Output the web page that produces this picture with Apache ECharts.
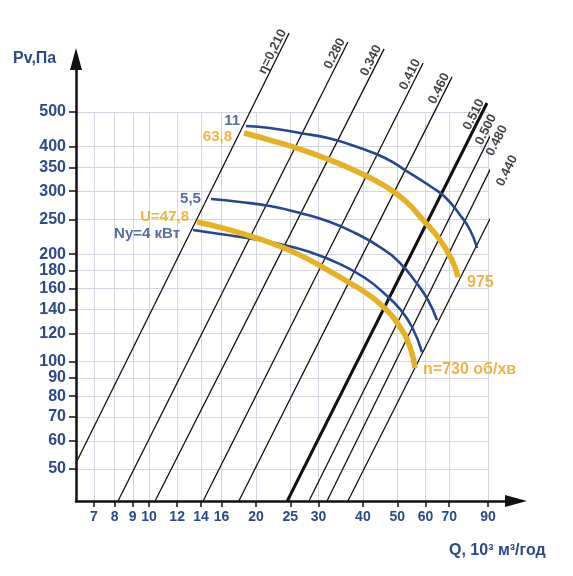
<!DOCTYPE html>
<html><head><meta charset="utf-8">
<script src="https://cdn.jsdelivr.net/npm/echarts@6/dist/echarts.min.js"></script>
<style>html,body{margin:0;padding:0;background:#fff}#c{width:573px;height:576px}</style>
</head><body><div id="c"></div>
<script>
// ---- data ----
const qTicks = [7, 8, 9, 10, 12, 14, 16, 20, 25, 30, 40, 50, 60, 70, 90];
const pTicks = [50, 60, 70, 80, 90, 100, 120, 140, 160, 180, 200, 250, 300, 350, 400, 500];

const etaNames = ['η=0,210', '0.280', '0.340', '0.410', '0.460', '0.510', '0.500', '0.480', '0.440'];
const etaLow  = [[6.23, 52.0], [8.18, 40.7], [10.4, 40.7], [14.2, 40.7], [17.9, 40.7], [24.5, 40.7], [28.2, 40.7], [31.7, 40.7], [36.3, 40.7]];
const etaHigh = [[24.8, 832], [36.3, 785], [45.9, 751], [59.1, 686], [71.3, 627], [89.4, 530], [96.7, 481], [103.8, 448], [110.8, 369]];

const power11  = [[18.75, 456.9], [21.9, 451.0], [26.61, 436.6], [32.32, 421.4], [39.27, 396.3], [46.17, 371.7], [52.55, 343.9],
                  [61.81, 310.2], [68.12, 289.1], [75.08, 257.4], [80.11, 233.6], [83.83, 208.0]];
const power55  = [[14.94, 285.3], [18.04, 279.9], [21.9, 272.7], [26.61, 260.7], [32.32, 246.0], [38.02, 229.1], [44.7, 209.3],
                  [50.87, 188.8], [56.08, 168.1], [61.01, 148.7], [64.68, 130.7]];
const power4   = [[13.3, 233.6], [15.84, 227.6], [19.24, 221.1], [23.37, 213.4], [28.39, 202.6], [34.49, 187.5], [40.56, 171.4],
                  [46.17, 154.5], [50.87, 140.3], [55.0, 125.0], [58.68, 106.3]];
const speed975 = [[18.51, 436.6], [21.9, 417.3], [26.61, 393.7], [32.32, 366.9], [39.27, 337.4], [46.17, 310.2], [52.89, 280.8],
                  [59.06, 249.2], [65.95, 219.0], [71.28, 192.4], [74.11, 172.5]];
const speed730 = [[13.65, 246.0], [16.36, 235.8], [19.24, 224.7], [22.63, 212.7], [26.61, 198.7], [31.29, 182.2], [36.81, 165.9],
                  [41.09, 155.0], [45.58, 142.6], [50.87, 125.0], [54.28, 109.8], [56.08, 95.9]];

const startLabels = ['11', '5,5', 'Ny=4 кВт', '63,8', 'U=47,8'];
const endLabels = ['975', 'n=730 об/хв'];

// ---- styles ----
const FONT = '"Liberation Sans", Arial, sans-serif';
const BLUE_TXT = '#2d4987';
const ORANGE = '#e8a21c';
const CURVE_BLUE = '#27468f';
const CURVE_YEL = '#e6b124';
const GRIDC = '#d4d4e2';

const chart = echarts.init(document.getElementById('c'), null, {renderer: 'canvas'});

const series = [];
etaNames.forEach((n, i) => {
  series.push({
    type: 'line', xAxisIndex: 0, yAxisIndex: 0, data: [etaLow[i], etaHigh[i]],
    symbol: 'none', clip: false, silent: true, animation: false,
    lineStyle: {color: '#111', width: n === '0.510' ? 3 : 1.3}, z: 3
  });
});
series.push({
  type: 'scatter', xAxisIndex: 0, yAxisIndex: 0, clip: false, silent: true, animation: false,
  symbolSize: 1, itemStyle: {color: 'rgba(0,0,0,0)'},
  data: etaHigh.map((p, i) => ({value: p, name: etaNames[i]})),
  label: {show: true, formatter: p => p.name, position: 'inside', align: 'right', verticalAlign: 'bottom',
          rotate: 63.4, color: '#111', fontSize: 13, fontWeight: 'bold', fontFamily: FONT},
  z: 6
});

const curves = [
  {d: power11, c: CURVE_BLUE, w: 2.6},
  {d: power55, c: CURVE_BLUE, w: 2.6},
  {d: power4, c: CURVE_BLUE, w: 2.6},
  {d: speed975, c: CURVE_YEL, w: 5.5},
  {d: speed730, c: CURVE_YEL, w: 5.5}
];
curves.forEach(cv => {
  series.push({
    type: 'line', xAxisIndex: 0, yAxisIndex: 0, data: cv.d, smooth: 0.5,
    symbol: 'none', clip: false, silent: true, animation: false,
    lineStyle: {color: cv.c, width: cv.w, cap: 'butt'}, z: 4
  });
});

const startOffsets = [[-6, -5], [-10, 0], [-13, 4], [-12, 4], [-8, -5]];
const startColors = [BLUE_TXT, BLUE_TXT, BLUE_TXT, ORANGE, ORANGE];
const labelData = startLabels.map((t, i) => ({
  value: curves[i].d[0], name: t,
  label: {align: 'right', offset: startOffsets[i], color: startColors[i]}
}));
labelData.push({value: speed975[speed975.length - 1], name: endLabels[0],
  label: {align: 'left', offset: [9, 6], color: ORANGE, fontSize: 16}});
labelData.push({value: speed730[speed730.length - 1], name: endLabels[1],
  label: {align: 'left', offset: [8, 2], color: ORANGE, fontSize: 16}});
series.push({
  type: 'scatter', xAxisIndex: 0, yAxisIndex: 0, clip: false, silent: true, animation: false,
  symbolSize: 1, itemStyle: {color: 'rgba(0,0,0,0)'},
  data: labelData,
  label: {show: true, formatter: p => p.name, position: 'inside', verticalAlign: 'middle',
          fontSize: 15, fontWeight: 'bold', fontFamily: FONT},
  z: 7
});

const option = {
  backgroundColor: '#fff',
  animation: false,
  title: [
    {text: 'Pv,Па', left: 8, top: 46, textStyle: {color: BLUE_TXT, fontSize: 16, fontWeight: 'bold', fontFamily: FONT}},
    {text: 'Q, 10³ м³/год', left: 444, top: 538, textStyle: {color: BLUE_TXT, fontSize: 16, fontWeight: 'bold', fontFamily: FONT}}
  ],
  grid: [
    {left: 76, top: 112, width: 412, height: 389, containLabel: false, outerBoundsMode: 'none'},
    {left: 76, top: 59, width: 440, height: 442, containLabel: false, outerBoundsMode: 'none'}
  ],
  xAxis: [
    {type: 'log', gridIndex: 0, min: 6.23, max: 90, logBase: 10,
     axisLine: {show: false},
     axisTick: {show: true, customValues: qTicks, length: 6, lineStyle: {color: '#111', width: 1.5}},
     axisLabel: {customValues: qTicks, color: BLUE_TXT, fontSize: 14, fontWeight: 'bold', fontFamily: FONT, margin: 9,
                 formatter: v => String(Math.round(v))},
     splitLine: {show: true, lineStyle: {color: GRIDC, width: 1}},
     minorTick: {show: false}, minorSplitLine: {show: false}},
    {type: 'value', gridIndex: 1, min: 0, max: 1,
     axisLine: {show: true, onZero: false, symbol: ['none', 'triangle'], symbolSize: [12, 22], lineStyle: {color: '#111', width: 2.5}},
     axisTick: {show: false}, axisLabel: {show: false}, splitLine: {show: false}}
  ],
  yAxis: [
    {type: 'log', gridIndex: 0, min: 40.7, max: 500, logBase: 10,
     axisLine: {show: false},
     axisTick: {show: true, customValues: pTicks, length: 7, lineStyle: {color: '#111', width: 1.5}},
     axisLabel: {customValues: pTicks, color: BLUE_TXT, fontSize: 16, fontWeight: 'bold', fontFamily: FONT, margin: 10,
                 formatter: v => String(Math.round(v))},
     splitLine: {show: true, lineStyle: {color: GRIDC, width: 1}},
     minorTick: {show: false}, minorSplitLine: {show: false}},
    {type: 'value', gridIndex: 1, min: 0, max: 1,
     axisLine: {show: true, onZero: false, symbol: ['none', 'triangle'], symbolSize: [12, 22], lineStyle: {color: '#111', width: 2.5}},
     axisTick: {show: false}, axisLabel: {show: false}, splitLine: {show: false}}
  ],
  series: series
};
chart.setOption(option);
</script>
</body></html>
